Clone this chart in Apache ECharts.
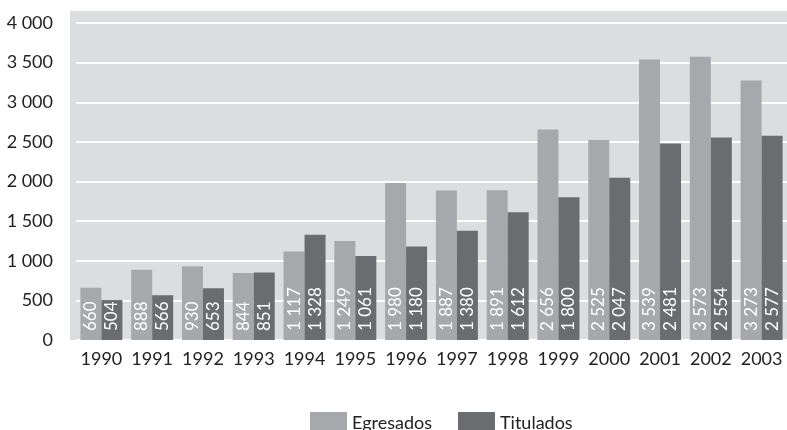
<!DOCTYPE html>
<html>
<head>
<meta charset="utf-8">
<script src="https://cdn.jsdelivr.net/npm/echarts@6/dist/echarts.min.js"></script>
<style>
  html, body { margin: 0; padding: 0; background: #fff; }
  #chart { width: 787px; height: 430px; }
</style>
</head>
<body>
<div id="chart"></div>
<script>
const years = ['1990', '1991', '1992', '1993', '1994', '1995', '1996', '1997', '1998', '1999', '2000', '2001', '2002', '2003']
const egresados = [660, 888, 930, 844, 1117, 1249, 1980, 1887, 1891, 2656, 2525, 3539, 3573, 3273]
const titulados = [504, 566, 653, 851, 1328, 1061, 1180, 1380, 1612, 1800, 2047, 2481, 2554, 2577]

const fontFamily = 'Lato, "Open Sans", sans-serif'
// miles separados por espacio: 1 500
const fmt = (v) => String(v).replace(/\B(?=(\d{3})+(?!\d))/g, ' ')

const chartInstance = echarts.init(document.getElementById('chart'))

const barLabel = {
  show: true,
  position: 'insideBottom',
  rotate: 90,
  align: 'left',
  verticalAlign: 'middle',
  distance: 9,
  color: '#fff',
  fontSize: 17,
  fontFamily: fontFamily,
  formatter: (p) => fmt(p.value),
}

chartInstance.setOption({
  animation: false,
  textStyle: { fontFamily: fontFamily },
  graphic: [
    {
      type: 'rect',
      z: -10,
      shape: { x: 70, y: 11, width: 717, height: 329 },
      style: { fill: '#dcdddf' },
    },
  ],
  grid: {
    left: 76,
    top: 23,
    width: 713,
    bottom: 90,
    containLabel: false,
  },
  legend: {
    data: ['Egresados', 'Titulados'],
    top: 407,
    left: 305,
    itemWidth: 37,
    itemHeight: 22,
    itemGap: 26,
    icon: 'rect',
    textStyle: { fontSize: 18, color: '#222', fontFamily: fontFamily },
  },
  xAxis: {
    type: 'category',
    data: years,
    axisLine: { show: false },
    axisTick: { show: false },
    axisLabel: { interval: 0, margin: 10, fontSize: 18, color: '#222', fontFamily: fontFamily },
  },
  yAxis: {
    type: 'value',
    min: 0,
    max: 4000,
    interval: 500,
    axisLine: { show: false },
    axisTick: { show: false },
    axisLabel: { margin: 23, fontSize: 18, color: '#222', fontFamily: fontFamily, formatter: fmt },
    splitLine: { lineStyle: { color: '#fff', width: 2 } },
  },
  series: [
    {
      name: 'Egresados',
      type: 'bar',
      data: egresados,
      barWidth: 21,
      barGap: '0%',
      itemStyle: { color: '#a7a8ab' },
      label: barLabel,
    },
    {
      name: 'Titulados',
      type: 'bar',
      data: titulados,
      barWidth: 21,
      barGap: '0%',
      itemStyle: { color: '#6b6c70' },
      label: barLabel,
    },
  ],
})
</script>
</body>
</html>
